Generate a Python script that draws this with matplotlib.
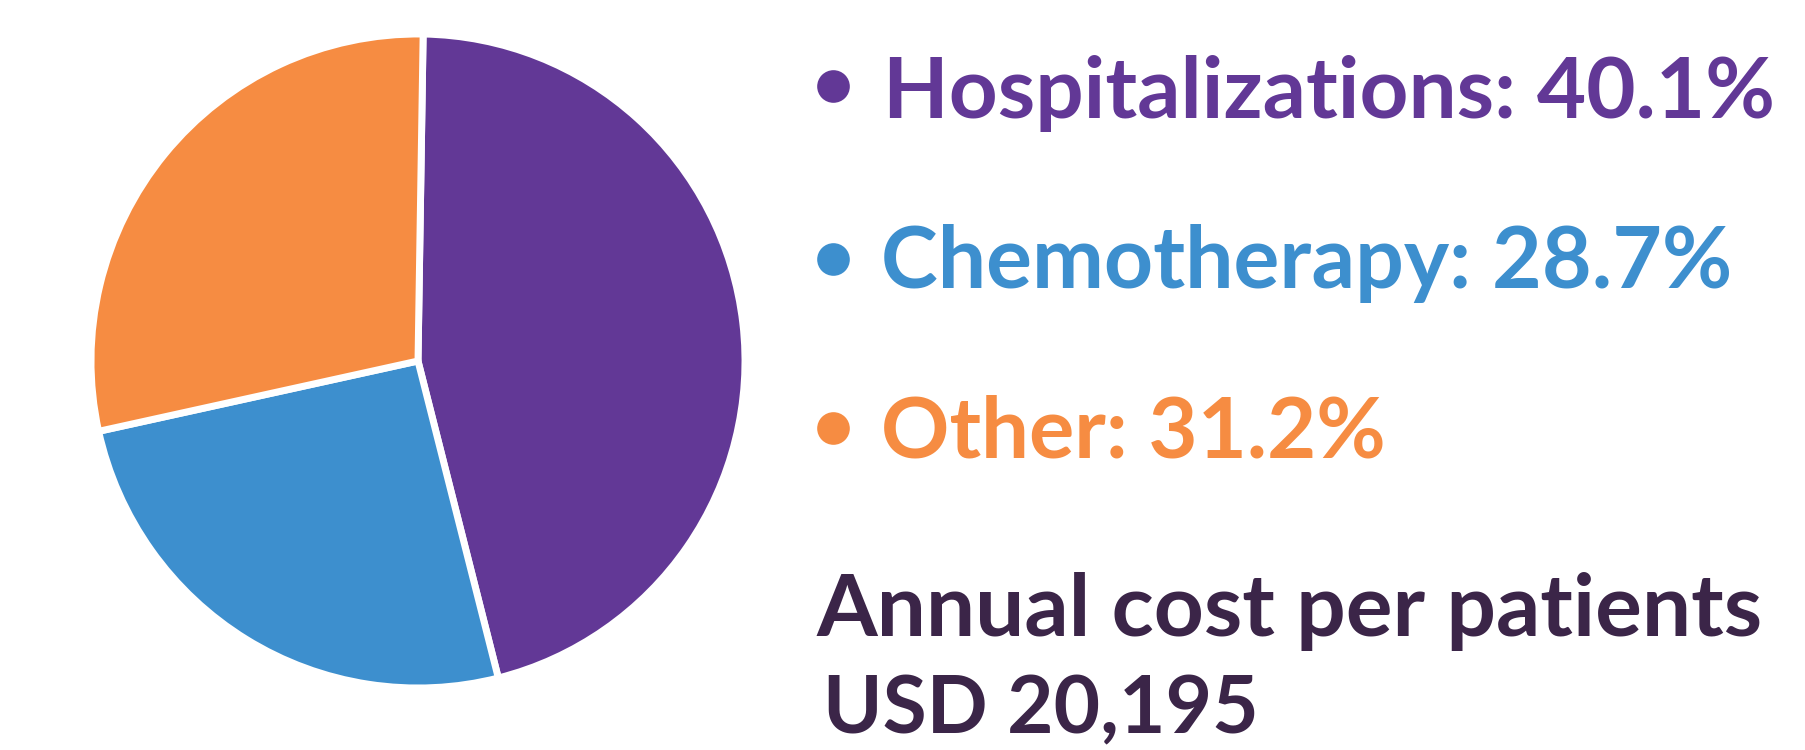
import matplotlib
matplotlib.use("Agg")
import matplotlib.pyplot as plt

# ---- data ----
categories = ["Hospitalizations", "Chemotherapy", "Other"]
wedge_shares = [45.8, 25.5, 28.7]          # angular shares as drawn in the picture
label_pct = ["40.1%", "28.7%", "31.2%"]    # percentages printed in the legend text
colors = ["#623896", "#3D8FCE", "#F68C42"]
summary_lines = ["Annual cost per patients", "USD 20,195"]
summary_color = "#3B2548"

W, H, DPI = 1806, 750, 100
fig = plt.figure(figsize=(W / DPI, H / DPI), dpi=DPI)
fig.patch.set_facecolor("white")

# ---- pie ----
cx, cy, R = 418, 361, 327
ax = fig.add_axes([(cx - R) / W, (H - cy - R) / H, 2 * R / W, 2 * R / H])
ax.pie(wedge_shares, colors=colors, startangle=89.1, counterclock=False,
       radius=1.0, wedgeprops=dict(edgecolor="white", linewidth=5))
ax.set_xlim(-1, 1)
ax.set_ylim(-1, 1)
ax.set_aspect("auto")
ax.axis("off")

# ---- text overlay in pixel coords ----
ov = fig.add_axes([0, 0, 1, 1])
ov.set_xlim(0, W)
ov.set_ylim(H, 0)
ov.axis("off")

FONT = "Lato"
renderer = fig.canvas.get_renderer()

def fitted_text(x0, x1, baseline, s, color):
    t = ov.text(x0, baseline, s, color=color, fontsize=50, fontweight="bold",
                family=FONT, ha="left", va="baseline")
    bb = t.get_window_extent(renderer=renderer)
    t.set_fontsize(50 * (x1 - x0) / bb.width)
    return t

# legend lines: (text left, text right, baseline, bullet y)
legend_geom = [(883, 1776, 118, 86), (881, 1734, 288, 259), (881, 1386, 458, 428)]
for cat, pct, col, (x0, x1, bl, by) in zip(categories, label_pct, colors, legend_geom):
    ov.plot([833], [by], "o", color=col, markersize=23.5, markeredgewidth=0)
    fitted_text(x0, x1, bl, f"{cat}: {pct}", col)

summary_geom = [(816, 1763, 636), (823, 1259, 733)]
for s, (x0, x1, bl) in zip(summary_lines, summary_geom):
    fitted_text(x0, x1, bl, s, summary_color)

fig.savefig("out.png", dpi=DPI, facecolor="white")
